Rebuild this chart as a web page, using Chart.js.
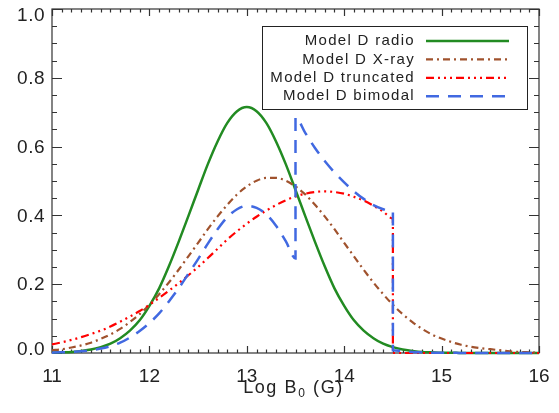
<!DOCTYPE html>
<html>
<head>
<meta charset="utf-8">
<script src="https://cdn.jsdelivr.net/npm/chart.js@4.4.1/dist/chart.umd.min.js"></script>
<style>
  html, body { margin: 0; padding: 0; background: #fff; }
  #wrap { width: 559px; height: 413px; }
</style>
</head>
<body>
<div id="wrap"><canvas id="chart" width="559" height="413"></canvas></div>
<script>
// Log B0 grid, 0.1 steps
var logB = [11.0, 11.1, 11.2, 11.3, 11.4, 11.5, 11.6, 11.7, 11.8, 11.9,
            12.0, 12.1, 12.2, 12.3, 12.4, 12.5, 12.6, 12.7, 12.8, 12.9,
            13.0, 13.1, 13.2, 13.3, 13.4, 13.5, 13.6, 13.7, 13.8, 13.9,
            14.0, 14.1, 14.2, 14.3, 14.4, 14.5, 14.6, 14.7, 14.8, 14.9,
            15.0, 15.1, 15.2, 15.3, 15.4, 15.5, 15.6, 15.7, 15.8, 15.9, 16.0];

var radio = [0.001, 0.002, 0.003, 0.006, 0.010, 0.017, 0.027, 0.043, 0.065, 0.095,
             0.137, 0.188, 0.252, 0.323, 0.398, 0.474, 0.549, 0.615, 0.669, 0.703,
             0.715, 0.703, 0.669, 0.615, 0.549, 0.474, 0.398, 0.323, 0.252, 0.188,
             0.137, 0.095, 0.065, 0.043, 0.027, 0.017, 0.010, 0.006, 0.003, 0.002,
             0.001, 0.001, 0, 0, 0, 0, 0, 0, 0, 0, 0];

var xray = [0.008, 0.011, 0.016, 0.022, 0.030, 0.041, 0.054, 0.070, 0.090, 0.113,
            0.140, 0.171, 0.205, 0.242, 0.281, 0.320, 0.360, 0.397, 0.431, 0.461,
            0.484, 0.501, 0.509, 0.509, 0.501, 0.484, 0.461, 0.431, 0.397, 0.360,
            0.320, 0.281, 0.242, 0.205, 0.171, 0.140, 0.113, 0.090, 0.070, 0.054,
            0.042, 0.032, 0.024, 0.018, 0.014, 0.011, 0.008, 0.005, 0.003, 0.002, 0.001];

// truncated: cut at 14.5
var truncLogB = logB.slice(0, 36).concat([14.5, 16.0]);
var truncated = [0.025, 0.031, 0.038, 0.046, 0.055, 0.065, 0.077, 0.091, 0.106, 0.122,
                 0.140, 0.160, 0.181, 0.203, 0.226, 0.250, 0.276, 0.303, 0.330, 0.354,
                 0.376, 0.396, 0.414, 0.430, 0.444, 0.455, 0.463, 0.468, 0.470, 0.468,
                 0.463, 0.454, 0.443, 0.428, 0.411, 0.391,
                 0, 0];

// bimodal: jump up at 13.5, drop at 14.5
var bimodalLogB = logB.slice(0, 26).concat([13.5], logB.slice(26, 36), [14.5], logB.slice(36));
var bimodal = [0.001, 0.002, 0.003, 0.005, 0.008, 0.013, 0.020, 0.030, 0.045, 0.064,
               0.087, 0.115, 0.150, 0.188, 0.230, 0.273, 0.318, 0.360, 0.395, 0.418,
               0.428, 0.422, 0.403, 0.370, 0.325, 0.275,
               0.685,
               0.640, 0.596, 0.558, 0.525, 0.496, 0.470, 0.448, 0.430, 0.418, 0.410,
               0.008,
               0.005, 0.003, 0.002, 0.001, 0.001, 0.001, 0, 0, 0, 0, 0, 0, 0, 0, 0];

var seriesNames = ["Model D radio", "Model D X-ray", "Model D truncated", "Model D bimodal"];

function pts(xs, ys) {
    var out = [];
    for (var i = 0; i < xs.length; i++) out.push({ x: xs[i], y: ys[i] });
    return out;
}

var FONT = "'Liberation Sans', Arial, sans-serif";
Chart.defaults.font.family = FONT;
Chart.defaults.color = '#222';

// box + inward ticks on all four sides, IDL style; y labels kept inside the box height
var framePlugin = {
    id: 'frame',
    beforeDatasetsDraw: function (chart) {
        var ctx = chart.ctx, a = chart.chartArea, xs = chart.scales.x, ys = chart.scales.y;
        ctx.save();
        ctx.strokeStyle = '#333';
        ctx.lineWidth = 1.2;
        ctx.strokeRect(a.left, a.top, a.right - a.left, a.bottom - a.top);
        ctx.beginPath();
        for (var i = 0; i <= 50; i++) {
            var px = Math.round(xs.getPixelForValue(xs.min + i * 0.1)) + 0.5;
            var len = (i % 10 === 0) ? 7 : 3.5;
            ctx.moveTo(px, a.bottom); ctx.lineTo(px, a.bottom - len);
            ctx.moveTo(px, a.top); ctx.lineTo(px, a.top + len);
        }
        for (var j = 0; j <= 20; j++) {
            var py = Math.round(ys.getPixelForValue(ys.min + j * 0.05)) + 0.5;
            var ln = (j % 4 === 0) ? 10 : 5;
            ctx.moveTo(a.left, py); ctx.lineTo(a.left + ln, py);
            ctx.moveTo(a.right, py); ctx.lineTo(a.right - ln, py);
        }
        ctx.stroke();

        ctx.fillStyle = '#222';
        ctx.font = "19px " + FONT;
        ctx.letterSpacing = '0.5px';
        ctx.textAlign = 'right';
        ctx.textBaseline = 'middle';
        ys.ticks.forEach(function (t) {
            var cy = ys.getPixelForValue(t.value) + 1;
            cy = Math.min(Math.max(cy, a.top + 6.5), a.bottom - 3);
            ctx.fillText(t.value.toFixed(1), a.left - 7, cy);
        });
        ctx.restore();
    }
};

// x title with subscript
var titlePlugin = {
    id: 'xtitle',
    afterDraw: function (chart) {
        var ctx = chart.ctx, a = chart.chartArea;
        ctx.save();
        ctx.fillStyle = '#222';
        ctx.textBaseline = 'alphabetic';
        ctx.letterSpacing = '1.6px';
        var big = "18px " + FONT, small = "12px " + FONT;
        ctx.font = big;
        var w1 = ctx.measureText('Log B').width, w3 = ctx.measureText(' (G)').width;
        ctx.font = small;
        var w2 = ctx.measureText('0').width;
        var x0 = (a.left + a.right) / 2 - (w1 + w2 + w3) / 2 - 2;
        var base = 393;
        ctx.font = big; ctx.fillText('Log B', x0, base);
        ctx.font = small; ctx.fillText('0', x0 + w1, base + 4);
        ctx.font = big; ctx.fillText(' (G)', x0 + w1 + w2, base);
        ctx.restore();
    }
};

// boxed legend: right-aligned names, line samples on the right
var legendPlugin = {
    id: 'boxLegend',
    afterDraw: function (chart) {
        var ctx = chart.ctx, a = chart.chartArea;
        var right = a.right - 12, top = a.top + 17, left = right - 265, bottom = top + 83;
        ctx.save();
        ctx.fillStyle = '#fff';
        ctx.fillRect(left, top, right - left, bottom - top);
        ctx.strokeStyle = '#222';
        ctx.lineWidth = 1;
        ctx.strokeRect(left + 0.5, top + 0.5, right - left, bottom - top);
        ctx.font = "15px " + FONT;
        ctx.letterSpacing = '1.3px';
        ctx.textAlign = 'right';
        ctx.textBaseline = 'middle';
        chart.data.datasets.forEach(function (ds, i) {
            var yy = top + 15 + i * 18.4;
            ctx.fillStyle = '#222';
            ctx.fillText(ds.label, right - 112, yy);
            ctx.beginPath();
            ctx.strokeStyle = ds.borderColor;
            ctx.lineWidth = ds.borderWidth;
            ctx.setLineDash(ds.borderDash || []);
            ctx.moveTo(right - 101, yy);
            ctx.lineTo(right - 18, yy);
            ctx.stroke();
        });
        ctx.restore();
    }
};

new Chart(document.getElementById('chart'), {
    type: 'line',
    data: {
        datasets: [
            { label: seriesNames[0], data: pts(logB, radio), borderColor: '#228B22', borderWidth: 2.5, order: 3 },
            { label: seriesNames[1], data: pts(logB, xray), borderColor: '#A0522D', borderWidth: 2.2, borderDash: [7, 4, 2, 4], order: 2 },
            { label: seriesNames[2], data: pts(truncLogB, truncated), borderColor: '#FF0000', borderWidth: 2.2, borderDash: [8, 4, 2, 4, 2, 4, 2, 4], order: 1 },
            { label: seriesNames[3], data: pts(bimodalLogB, bimodal), borderColor: '#4169E1', borderWidth: 2.5, borderDash: [13, 9], order: 0 }
        ]
    },
    options: {
        responsive: false,
        animation: false,
        layout: { padding: { top: 9, right: 20, left: 0, bottom: 0 } },
        elements: { point: { radius: 0 }, line: { cubicInterpolationMode: 'monotone', fill: false } },
        datasets: { line: { clip: 4 } },
        plugins: { legend: { display: false }, tooltip: { enabled: false } },
        scales: {
            x: {
                type: 'linear', min: 11, max: 16,
                grid: { display: false, drawTicks: false },
                border: { display: false },
                ticks: { stepSize: 1, padding: 12, font: { size: 19 }, maxRotation: 0,
                         callback: function (v) { return String(v); } },
                afterFit: function (s) { s.height = 60; s.paddingLeft = 0; s.paddingRight = 0; }
            },
            y: {
                min: 0, max: 1.0,
                grid: { display: false, drawTicks: false },
                border: { display: false },
                ticks: { stepSize: 0.2, display: false },
                afterFit: function (s) { s.width = 52; s.paddingTop = 0; s.paddingBottom = 0; }
            }
        }
    },
    plugins: [framePlugin, titlePlugin, legendPlugin]
});
</script>
</body>
</html>
